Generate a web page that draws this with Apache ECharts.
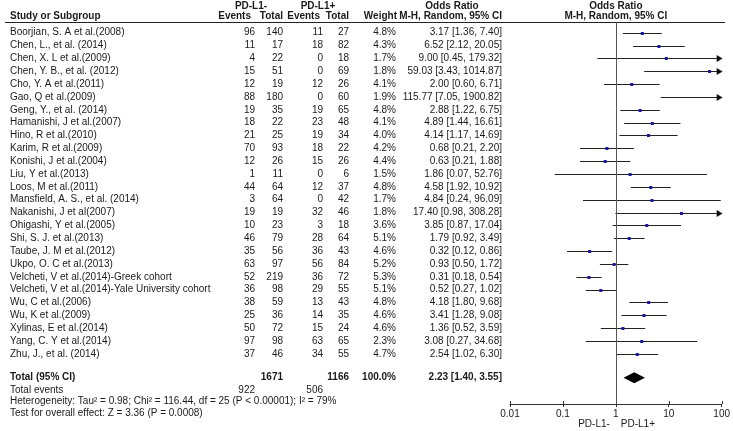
<!DOCTYPE html>
<html>
<head>
<meta charset="utf-8">
<script src="https://cdn.jsdelivr.net/npm/echarts@6/dist/echarts.min.js"></script>
<style>
html,body{margin:0;padding:0;background:#fff;}
#chart{width:733px;height:431px;}
</style>
</head>
<body>
<div id="chart"></div>
<script>
const studies = [
  "Boorjian, S. A et al.(2008)",
  "Chen, L., et al. (2014)",
  "Chen, X. L et al.(2009)",
  "Chen, Y. B., et al. (2012)",
  "Cho, Y. A et al.(2011)",
  "Gao, Q et al.(2009)",
  "Geng, Y., et al. (2014)",
  "Hamanishi, J et al.(2007)",
  "Hino, R et al.(2010)",
  "Karim, R et al.(2009)",
  "Konishi, J et al.(2004)",
  "Liu, Y et al.(2013)",
  "Loos, M et al.(2011)",
  "Mansfield, A. S., et al. (2014)",
  "Nakanishi, J et al(2007)",
  "Ohigashi, Y et al.(2005)",
  "Shi, S. J. et al.(2013)",
  "Taube, J. M et al.(2012)",
  "Ukpo, O. C et al.(2013)",
  "Velcheti, V et al.(2014)-Greek cohort",
  "Velcheti, V et al.(2014)-Yale University cohort",
  "Wu, C et al.(2006)",
  "Wu, K et al.(2009)",
  "Xylinas, E et al.(2014)",
  "Yang, C. Y et al.(2014)",
  "Zhu, J., et al. (2014)"
];
const negEvents = [96,11,4,15,12,88,19,18,21,70,12,1,44,3,19,10,46,35,63,52,36,38,25,50,97,37];
const negTotal  = [140,17,22,51,19,180,35,22,25,93,26,11,64,64,19,23,79,56,97,219,98,59,36,72,98,46];
const posEvents = [11,18,0,0,12,0,19,23,19,18,15,0,12,0,32,3,28,36,56,36,29,13,14,15,63,34];
const posTotal  = [27,82,18,69,26,60,65,48,34,22,26,6,37,42,46,18,64,43,84,72,55,43,35,24,65,55];
const weights   = [4.8,4.3,1.7,1.8,4.1,1.9,4.8,4.1,4.0,4.2,4.4,1.5,4.8,1.7,1.8,3.6,5.1,4.6,5.2,5.3,5.1,4.8,4.6,4.6,2.3,4.7];
const oddsRatio = [3.17,6.52,9.00,59.03,2.00,115.77,2.88,4.89,4.14,0.68,0.63,1.86,4.58,4.84,17.40,3.85,1.79,0.32,0.93,0.31,0.52,4.18,3.41,1.36,3.08,2.54];
const ciLow     = [1.36,2.12,0.45,3.43,0.60,7.05,1.22,1.44,1.17,0.21,0.21,0.07,1.92,0.24,0.98,0.87,0.92,0.12,0.50,0.18,0.27,1.80,1.28,0.52,0.27,1.02];
const ciHigh    = [7.40,20.05,179.32,1014.87,6.71,1900.82,6.75,16.61,14.69,2.20,1.88,52.76,10.92,96.09,308.28,17.04,3.49,0.86,1.72,0.54,1.02,9.68,9.08,3.59,34.68,6.30];

const totalNeg = 1671, totalPos = 1166, totalEventsNeg = 922, totalEventsPos = 506;
const totalWeight = 100.0, totalOR = 2.23, totalLow = 1.40, totalHigh = 3.55;
const heterogeneityText = "Heterogeneity: Tau² = 0.98; Chi² = 116.44, df = 25 (P < 0.00001); I² = 79%";
const overallText = "Test for overall effect: Z = 3.36 (P = 0.0008)";
const axisTicks = [0.01, 0.1, 1, 10, 100];
const favoursLeft = "PD-L1-", favoursRight = "PD-L1+";

// layout (row positions, not data)
const XMIN = 0.01, XMAX = 100;
const ROW_TOP = -0.83, ROW_BOTTOM = 28.9;
const R_HEAD1 = -2.05, R_HEAD2 = -1.25;
const R_TOTAL = 26.85, R_TEVENTS = 27.8, R_HET = 28.7, R_TEST = 29.6, R_FAV = 30.5;
const FONT = "'Liberation Sans', Arial, sans-serif";
const TXT = '#1a1a1a';
const COL = {study:10, nE:255, nT:283, pE:323, pT:349, w:396, ci:502};

const fmt = v => v.toFixed(2);
const ciText = (o,l,h) => fmt(o) + ' [' + fmt(l) + ', ' + fmt(h) + ']';

function txt(x, y, s, align, bold) {
  return {type:'text', x:x, y:y, silent:true,
    style:{text:s, textAlign:align||'left', textVerticalAlign:'middle', fill:TXT,
      font:(bold?'bold ':'') + '10px ' + FONT}};
}

const chart = echarts.init(document.getElementById('chart'), null, {renderer:'canvas'});

const option = {
  animation:false,
  backgroundColor:'#fff',
  grid:{left:510, width:212, top:22, height:382, containLabel:false},
  xAxis:{
    type:'log', logBase:10, min:XMIN, max:XMAX, position:'bottom',
    axisLine:{show:true, onZero:false, lineStyle:{color:'#333', width:1}},
    axisTick:{show:true, inside:false, length:3, lineStyle:{color:'#333'}},
    axisLabel:{show:true, margin:5, fontSize:10, fontFamily:FONT, color:TXT,
      formatter: v => String(parseFloat(Number(v).toPrecision(3)))},
    splitLine:{show:false}
  },
  yAxis:{type:'value', inverse:true, min:ROW_TOP, max:ROW_BOTTOM, show:false},
  series:[
    { // study table text
      type:'custom', clip:false, silent:true,
      data: studies.map((s,i)=>[oddsRatio[i], i]),
      renderItem:(params, api)=>{
        const k = params.dataIndex;
        const y = api.coord([1, api.value(1)])[1];
        return {type:'group', children:[
          txt(COL.study, y, studies[k], 'left'),
          txt(COL.nE, y, String(negEvents[k]), 'right'),
          txt(COL.nT, y, String(negTotal[k]), 'right'),
          txt(COL.pE, y, String(posEvents[k]), 'right'),
          txt(COL.pT, y, String(posTotal[k]), 'right'),
          txt(COL.w, y, weights[k].toFixed(1) + '%', 'right'),
          txt(COL.ci, y, ciText(oddsRatio[k], ciLow[k], ciHigh[k]), 'right')
        ]};
      }
    },
    { // forest lines and squares
      type:'custom', clip:false, silent:true,
      data: studies.map((s,i)=>[oddsRatio[i], i, ciLow[i], ciHigh[i]]),
      encode:{x:0, y:1},
      renderItem:(params, api)=>{
        const i = api.value(1), o = api.value(0), l = api.value(2), h = api.value(3);
        const y = Math.round(api.coord([1, i])[1]) + 0.5;
        const xl = api.coord([Math.max(l, XMIN), i])[0];
        const xh = api.coord([Math.min(h, XMAX), i])[0];
        const ch = [{type:'line', shape:{x1:xl, y1:y, x2:xh, y2:y}, style:{stroke:'#222', lineWidth:1}}];
        if (h > XMAX) {
          ch.push({type:'polygon', shape:{points:[[xh+1, y],[xh-5, y-3.5],[xh-5, y+3.5]]}, style:{fill:'#111'}});
        }
        if (o <= XMAX) {
          const xo = api.coord([o, i])[0];
          ch.push({type:'rect', shape:{x:xo-1.5, y:y-1.5, width:3, height:3}, style:{fill:'#1818a8'}});
        }
        return {type:'group', children:ch};
      },
      markLine:{silent:true, symbol:['none','none'], animation:false,
        label:{show:false}, lineStyle:{color:'#555', type:'solid', width:1},
        data:[{xAxis:1}]}
    },
    { // total diamond
      type:'custom', clip:false, silent:true,
      data:[[totalOR, R_TOTAL, totalLow, totalHigh]],
      encode:{x:0, y:1},
      renderItem:(params, api)=>{
        const r = api.value(1);
        const c = api.coord([api.value(0), r]);
        const xl = api.coord([api.value(2), r])[0];
        const xh = api.coord([api.value(3), r])[0];
        return {type:'polygon', shape:{points:[[xl,c[1]],[c[0],c[1]-5.5],[xh,c[1]],[c[0],c[1]+5.5]]},
          style:{fill:'#000'}};
      }
    },
    { // headers, footer text, upward halves of axis ticks
      type:'custom', clip:false, silent:true,
      data:[[1, ROW_TOP]],
      encode:{x:0, y:1},
      renderItem:(params, api)=>{
        const Y = r => api.coord([1, r])[1];
        const x1 = api.coord([1, 0])[0];
        const yl = Math.round(Y(ROW_TOP)) + 0.5;
        const yAx = Y(ROW_BOTTOM);
        const ticks = axisTicks.map(t => {
          const tx = Math.round(api.coord([t, ROW_BOTTOM])[0]) + 0.5;
          return {type:'line', shape:{x1:tx, y1:yAx-3, x2:tx, y2:yAx}, style:{stroke:'#333', lineWidth:1}};
        });
        return {type:'group', children:ticks.concat([
          txt(251, Y(R_HEAD1), 'PD-L1-', 'center', true),
          txt(318, Y(R_HEAD1), 'PD-L1+', 'center', true),
          txt(452, Y(R_HEAD1), 'Odds Ratio', 'center', true),
          txt(x1, Y(R_HEAD1), 'Odds Ratio', 'center', true),
          txt(COL.study, Y(R_HEAD2), 'Study or Subgroup', 'left', true),
          txt(251, Y(R_HEAD2), 'Events', 'right', true),
          txt(COL.nT, Y(R_HEAD2), 'Total', 'right', true),
          txt(320, Y(R_HEAD2), 'Events', 'right', true),
          txt(COL.pT, Y(R_HEAD2), 'Total', 'right', true),
          txt(397, Y(R_HEAD2), 'Weight', 'right', true),
          txt(COL.ci, Y(R_HEAD2), 'M-H, Random, 95% CI', 'right', true),
          txt(x1, Y(R_HEAD2), 'M-H, Random, 95% CI', 'center', true),
          {type:'line', shape:{x1:5, y1:yl, x2:725, y2:yl}, style:{stroke:'#222', lineWidth:1}},
          txt(COL.study, Y(R_TOTAL), 'Total (95% CI)', 'left', true),
          txt(COL.nT, Y(R_TOTAL), String(totalNeg), 'right', true),
          txt(COL.pT, Y(R_TOTAL), String(totalPos), 'right', true),
          txt(COL.w, Y(R_TOTAL), totalWeight.toFixed(1) + '%', 'right', true),
          txt(COL.ci, Y(R_TOTAL), ciText(totalOR, totalLow, totalHigh), 'right', true),
          txt(COL.study, Y(R_TEVENTS), 'Total events', 'left'),
          txt(COL.nE, Y(R_TEVENTS), String(totalEventsNeg), 'right'),
          txt(COL.pE, Y(R_TEVENTS), String(totalEventsPos), 'right'),
          txt(COL.study, Y(R_HET), heterogeneityText, 'left'),
          txt(COL.study, Y(R_TEST), overallText, 'left'),
          txt(x1 - 6, Y(R_FAV), favoursLeft, 'right'),
          txt(x1 + 5, Y(R_FAV), favoursRight, 'left')
        ])};
      }
    }
  ]
};
chart.setOption(option);
</script>
</body>
</html>
